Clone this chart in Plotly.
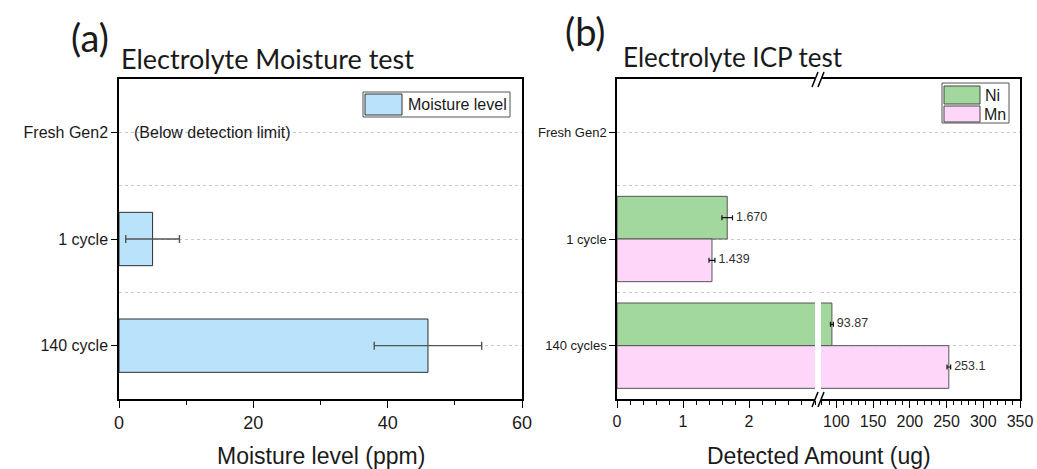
import plotly.graph_objects as go

W, H = 1037, 469

# ---------------- data ----------------
# Panel (a): electrolyte moisture
moist_categories = ["Fresh Gen2", "1 cycle", "140 cycle"]
moist_values = [None, 5.0, 46.0]
moist_errors = [None, 4.0, 8.0]
moist_note = "(Below detection limit)"
moist_ticks = [0, 20, 40, 60]
moist_range = [0, 60]

# Panel (b): electrolyte ICP (broken x axis)
icp_categories = ["Fresh Gen2", "1 cycle", "140 cycles"]
ni_values = [None, 1.670, 93.87]
ni_errors = [None, 0.08, 2.0]
mn_values = [None, 1.439, 253.1]
mn_errors = [None, 0.045, 2.5]
icp_low_ticks = [0, 1, 2]
icp_high_ticks = [100, 150, 200, 250, 300, 350]
icp_low_range = [0, 3]
icp_high_range = [79, 350]

# ---------------- styling ----------------
ARIAL = "Liberation Sans, Arial, sans-serif"
CAL = "Lato, Carlito, Calibri, sans-serif"
TXT = "#1a1a1a"
BLUE = "#b8e3fa"
GREEN = "#a2d79e"
PINK = "#fdd6f9"
GRID = "#c8c8c8"


def px(x):
    return x / W


def py(y):
    return 1 - y / H


pos_a = list(range(len(moist_categories)))
pos_b = list(range(len(icp_categories)))
mid_a = [p + 0.5 for p in pos_a[:-1]]
mid_b = [p + 0.5 for p in pos_b[:-1]]

fig = go.Figure()

# ---- panel (a) ----
fig.add_trace(go.Bar(
    x=moist_values, y=pos_a, orientation="h", width=0.5,
    marker=dict(color=BLUE, line=dict(color="#2e2e2e", width=1)),
    error_x=dict(type="data", array=moist_errors, color="#555555",
                 thickness=1.4, width=4),
    xaxis="x", yaxis="y", showlegend=False, hoverinfo="x+y",
))

# ---- panel (b) ----
def in_seg(v, rng):
    return v is not None and rng[0] <= v <= rng[1]


segments = [("x2", "y2", icp_low_range), ("x3", "y3", icp_high_range)]
series = [
    ("Ni", ni_values, ni_errors, GREEN, -0.4),
    ("Mn", mn_values, mn_errors, PINK, 0.0),
]
for xa, ya, rng in segments:
    for name, vals, errs, col, off in series:
        seg_err = [e if in_seg(v, rng) else None for v, e in zip(vals, errs)]
        fig.add_trace(go.Bar(
            name=name, x=vals, y=pos_b, orientation="h",
            offset=off, width=0.4,
            marker=dict(color=col, line=dict(color="#555555", width=1)),
            error_x=dict(type="data", array=seg_err, color="#111111",
                         thickness=1.2, width=2.5),
            xaxis=xa, yaxis=ya, showlegend=False,
        ))
        tx, ty, tt = [], [], []
        for p, v, e in zip(pos_b, vals, errs):
            if in_seg(v, rng):
                tx.append(v + e)
                ty.append(p + off + 0.2)
                tt.append("\u00a0" + f"{v:#.4g}")
        fig.add_trace(go.Scatter(
            x=tx, y=ty, text=tt, mode="text", textposition="middle right",
            textfont=dict(family=ARIAL, size=12.5, color="#333333"),
            xaxis=xa, yaxis=ya, showlegend=False, cliponaxis=True,
            hoverinfo="skip",
        ))

# ---------------- axes ----------------
ydom = [py(399), py(79)]
line_kw = dict(showline=True, linecolor="black", linewidth=1.5,
               zeroline=False, ticks="outside", tickcolor="black",
               tickwidth=1.3, automargin=False)

ygrid = dict(showgrid=True, gridcolor=GRID, griddash="dot", gridwidth=1)

fig.update_layout(
    xaxis=dict(domain=[px(119), px(522)], anchor="y", range=moist_range,
               tickmode="array", tickvals=moist_ticks, ticklen=7,
               mirror=True, showgrid=False,
               minor=dict(dtick=10, tick0=0, ticks="outside", ticklen=4,
                          tickwidth=1.3, tickcolor="black", showgrid=False),
               tickfont=dict(family=ARIAL, size=18, color=TXT), **line_kw),
    yaxis=dict(domain=ydom, anchor="x", range=[len(pos_a) - 0.5, -0.5],
               tickmode="array", tickvals=pos_a, ticktext=moist_categories,
               ticklen=6, mirror=True, **ygrid,
               minor=dict(tickmode="array", tickvals=mid_a, ticks="",
                          showgrid=True, gridcolor=GRID, griddash="dot"),
               tickfont=dict(family=ARIAL, size=16, color=TXT), **line_kw),
    xaxis2=dict(domain=[px(617), px(815)], anchor="y2", range=icp_low_range,
                tickmode="array", tickvals=icp_low_ticks, ticklen=7,
                mirror=True, showgrid=False,
                minor=dict(dtick=0.2, tick0=0, ticks="outside", ticklen=4,
                           tickwidth=1.3, tickcolor="black", showgrid=False),
                tickfont=dict(family=ARIAL, size=16, color=TXT), **line_kw),
    xaxis3=dict(domain=[px(821), px(1020)], anchor="y3", range=icp_high_range,
                tickmode="array", tickvals=icp_high_ticks, ticklen=7,
                mirror=True, showgrid=False,
                minor=dict(dtick=10, tick0=0, ticks="outside", ticklen=4,
                           tickwidth=1.3, tickcolor="black", showgrid=False),
                tickfont=dict(family=ARIAL, size=16, color=TXT), **line_kw),
    yaxis2=dict(domain=ydom, anchor="x2", range=[len(pos_b) - 0.5, -0.5],
                tickmode="array", tickvals=pos_b, ticktext=icp_categories,
                ticklen=6, mirror=False, **ygrid,
                minor=dict(tickmode="array", tickvals=mid_b, ticks="",
                           showgrid=True, gridcolor=GRID, griddash="dot"),
                tickfont=dict(family=ARIAL, size=13, color=TXT), **line_kw),
    yaxis3=dict(domain=ydom, anchor="x3", side="right",
                range=[len(pos_b) - 0.5, -0.5],
                tickmode="array", tickvals=pos_b, showticklabels=False,
                showline=True, linecolor="black", linewidth=1.5,
                zeroline=False, ticks="", automargin=False, **ygrid,
                minor=dict(tickmode="array", tickvals=mid_b, ticks="",
                           showgrid=True, gridcolor=GRID, griddash="dot")),
)

# ---------------- decorations ----------------
shapes = []
# axis-break slashes (bottom and top)
for y0, y1 in [(407, 392), (87, 72)]:
    for dx in (0, 6):
        shapes.append(dict(type="line", xref="paper", yref="paper",
                           x0=px(812 + dx), y0=py(y0), x1=px(818 + dx), y1=py(y1),
                           line=dict(color="black", width=1.5)))

# legend (a)
shapes.append(dict(type="rect", xref="paper", yref="paper",
                   x0=px(363), x1=px(510), y0=py(117), y1=py(92),
                   line=dict(color="#555555", width=1), fillcolor="white"))
shapes.append(dict(type="rect", xref="paper", yref="paper",
                   x0=px(365), x1=px(402), y0=py(115), y1=py(94),
                   line=dict(color="#333333", width=1), fillcolor=BLUE))
# legend (b)
shapes.append(dict(type="rect", xref="paper", yref="paper",
                   x0=px(942), x1=px(1009), y0=py(123), y1=py(83),
                   line=dict(color="#555555", width=1), fillcolor="white"))
shapes.append(dict(type="rect", xref="paper", yref="paper",
                   x0=px(944), x1=px(980), y0=py(104), y1=py(86),
                   line=dict(color="#444444", width=1), fillcolor=GREEN))
shapes.append(dict(type="rect", xref="paper", yref="paper",
                   x0=px(944), x1=px(980), y0=py(122), y1=py(106),
                   line=dict(color="#444444", width=1), fillcolor=PINK))

ann = [
    dict(text="(a)", x=px(69), y=py(37), font=dict(family=CAL, size=38, color=TXT)),
    dict(text="Electrolyte Moisture test", x=px(119), y=py(59),
         font=dict(family=CAL, size=27, color=TXT)),
    dict(text="(b)", x=px(563), y=py(31), font=dict(family=CAL, size=38, color=TXT)),
    dict(text="Electrolyte ICP test", x=px(621), y=py(57),
         font=dict(family=CAL, size=26, color=TXT)),
    dict(text="Moisture level", x=px(406), y=py(105),
         font=dict(family=ARIAL, size=16, color=TXT)),
    dict(text="Ni", x=px(983), y=py(95), font=dict(family=ARIAL, size=16, color=TXT)),
    dict(text="Mn", x=px(982), y=py(114), font=dict(family=ARIAL, size=16, color=TXT)),
]
annotations = [dict(a, xref="paper", yref="paper", xanchor="left", yanchor="middle",
                    showarrow=False) for a in ann]
annotations.append(dict(text="Moisture level (ppm)", x=px(321), y=py(456),
                        xref="paper", yref="paper", xanchor="center", yanchor="middle",
                        showarrow=False, font=dict(family=ARIAL, size=23, color=TXT)))
annotations.append(dict(text="Detected Amount (ug)", x=px(819), y=py(456),
                        xref="paper", yref="paper", xanchor="center", yanchor="middle",
                        showarrow=False, font=dict(family=ARIAL, size=23, color=TXT)))
annotations.append(dict(text=moist_note, x=2, y=pos_a[0], xref="x", yref="y",
                        xanchor="left", yanchor="middle", showarrow=False,
                        font=dict(family=ARIAL, size=16, color=TXT)))

fig.update_layout(
    width=W, height=H, margin=dict(l=0, r=0, t=0, b=0),
    paper_bgcolor="white", plot_bgcolor="white",
    barmode="overlay", showlegend=False,
    shapes=shapes, annotations=annotations,
)

fig.write_html("out.html")
